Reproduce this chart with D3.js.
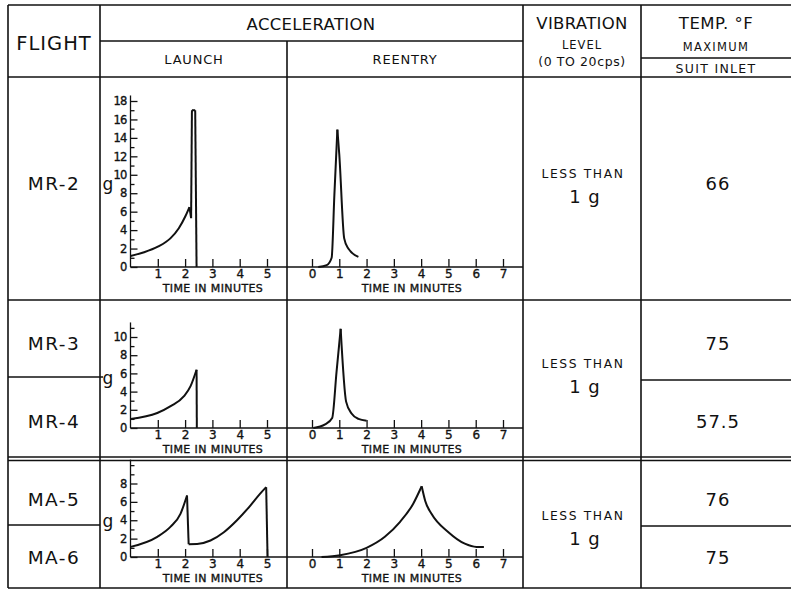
<!DOCTYPE html>
<html>
<head>
<meta charset="utf-8">
<title>Acceleration, vibration and suit inlet temperature by flight</title>
<style>
  body { margin: 0; background: #fff; }
  svg { display: block; }
  text { font-family: 'DejaVu Sans', sans-serif; fill: #111; }
  .grid line { stroke: #111; stroke-width: 1.6; }
  .curve { fill: none; stroke: #111; stroke-width: 2; stroke-linejoin: round; }
  .axis .tick line, .axis-line { stroke: #111; stroke-width: 1.3; }
  .axis .domain { display: none; }
  .axis text, .small { font-family: 'DejaVu Sans', sans-serif; fill: #111; stroke: #111; stroke-width: 0.35; }
</style>
</head>
<body>
<div id="chart"></div>
<script src="https://cdn.jsdelivr.net/npm/d3@7"></script>
<script>
var flights = ['MR-2', 'MR-3', 'MR-4', 'MA-5', 'MA-6'];
var suitInletTemp = ['66', '75', '57.5', '76', '75'];
var vibrationLevel = ['LESS THAN', '1 g'];

var launchTicks = [1, 2, 3, 4, 5];
var reentryTicks = [0, 1, 2, 3, 4, 5, 6, 7];

// [minutes, g] -- each trace split into pieces at its corners
var launchMR2 = [
  [[0, 1.2], [0.5, 1.6], [1.0, 2.2], [1.46, 3.1], [1.77, 4.2], [2.01, 5.5], [2.16, 6.5]],
  [[2.16, 6.5], [2.22, 5.3]],
  [[2.22, 5.3], [2.25, 17]],
  [[2.25, 17], [2.37, 17]],
  [[2.37, 17], [2.42, 0]]
];
var reentryMR2 = [
  [[0.23, 0], [0.54, 0.2], [0.72, 1.0], [0.82, 7.8], [0.93, 14.9]],
  [[0.93, 14.9], [1.0, 12.2], [1.18, 3.1], [1.33, 2.0], [1.7, 1.1]]
];
var launchMR3 = [
  [[0, 1.0], [0.98, 1.65], [1.47, 2.4], [1.96, 3.5], [2.2, 4.6], [2.42, 6.4]],
  [[2.42, 6.4], [2.43, 0]]
];
var reentryMR3 = [
  [[0.05, 0], [0.48, 0.4], [0.74, 1.1], [0.9, 6.2], [1.05, 10.9]],
  [[1.05, 10.9], [1.25, 2.9], [1.45, 1.6], [1.7, 1.0], [2.0, 0.8]]
];
var launchMA5 = [
  [[0, 1.1], [0.98, 2.2], [1.47, 3.3], [1.83, 4.7], [2.07, 6.7]],
  [[2.07, 6.7], [2.13, 1.4]],
  [[2.13, 1.4], [2.44, 1.42], [2.93, 1.8], [3.42, 2.7], [3.9, 4.0], [4.39, 5.6], [4.75, 6.9], [4.97, 7.6]],
  [[4.97, 7.6], [5.02, 0]]
];
var reentryMA5 = [
  [[0.35, 0], [1.03, 0.2], [2.0, 1.0], [2.67, 2.2], [3.22, 3.8], [3.71, 5.8], [4.02, 7.7]],
  [[4.02, 7.7], [4.15, 6.1], [4.38, 4.7], [5.0, 2.7], [5.6, 1.45], [6.03, 1.1], [6.3, 1.1]]
];

var gLabelMax = [18, 10, 8];
var gTickMax = [18, 11, 10];

var width = 791, height = 590;

var svg = d3.select('#chart').append('svg')
  .attr('width', width)
  .attr('height', height);

// table grid
var gridLines = [
  [8, 5, 791, 5], [8, 5, 8, 588],
  [100, 5, 100, 588], [523, 5, 523, 588], [641, 5, 641, 588],
  [287, 41, 287, 588],
  [100, 41, 523, 41], [641, 58, 791, 58],
  [8, 77, 791, 77],
  [8, 300, 791, 300],
  [8, 377, 103, 377], [641, 380, 791, 380],
  [8, 457, 791, 457], [8, 460.5, 791, 460.5],
  [8, 525, 100, 525], [641, 526, 791, 526],
  [8, 588, 791, 588]
];
svg.append('g').attr('class', 'grid')
  .selectAll('line')
  .data(gridLines)
  .enter().append('line')
  .attr('x1', function(d) { return d[0]; })
  .attr('y1', function(d) { return d[1]; })
  .attr('x2', function(d) { return d[2]; })
  .attr('y2', function(d) { return d[3]; });

function label(x, y, size, txt, ls, cls) {
  return svg.append('text')
    .attr('class', cls || null)
    .attr('x', x).attr('y', y)
    .attr('text-anchor', 'middle')
    .attr('font-size', size)
    .attr('letter-spacing', ls || 0)
    .text(txt);
}

// header
label(54, 50, 19.5, 'FLIGHT', 1);
label(311, 30, 16.5, 'ACCELERATION', 0.3);
label(194, 64, 13, 'LAUNCH', 0.8);
label(405, 64, 13, 'REENTRY', 0.8);
label(582, 29, 16.5, 'VIBRATION', 0.3);
label(582, 49, 11.5, 'LEVEL', 1);
label(582, 66, 12.5, '(0 TO 20cps)', 0.6);
label(716, 29, 16.5, 'TEMP. °F', 0.5);
label(716, 51, 11.5, 'MAXIMUM', 1.3);
label(716, 73, 12.5, 'SUIT INLET', 1.3);

// flight names and suit inlet temperatures
var cellMidY = [183, 343, 421, 499, 557];
flights.forEach(function(f, i) {
  label(54, cellMidY[i] + 7, 18.5, f, 1.5);
  label(718, cellMidY[i] + 7, 18, suitInletTemp[i], 1);
});

// vibration per row group
[173, 363, 515].forEach(function(y) {
  label(583, y + 4.5, 12.3, vibrationLevel[0], 1.6);
  label(585, y + 30, 18, vibrationLevel[1], 1);
});

// acceleration panels
var panels = [
  { launch: launchMR2, reentry: reentryMR2, base: 267, top: 101, gY: 190 },
  { launch: launchMR3, reentry: reentryMR3, base: 428, top: 337, gY: 384 },
  { launch: launchMA5, reentry: reentryMA5, base: 557, top: 483.5, gY: 527 }
];

var xLaunch = d3.scaleLinear().domain([0, 5]).range([130.5, 267]);
var xReentry = d3.scaleLinear().domain([0, 7]).range([312, 503]);
var fmt = d3.format('d');

panels.forEach(function(p, i) {
  var y = d3.scaleLinear().domain([0, gLabelMax[i]]).range([p.base, p.top]);
  var g = svg.append('g');

  // axis lines
  g.append('line').attr('class', 'axis-line')
    .attr('x1', xLaunch(0)).attr('x2', 287)
    .attr('y1', p.base).attr('y2', p.base);
  g.append('line').attr('class', 'axis-line')
    .attr('x1', 287).attr('x2', 523)
    .attr('y1', p.base).attr('y2', p.base);
  g.append('line').attr('class', 'axis-line')
    .attr('x1', xLaunch(0)).attr('x2', xLaunch(0))
    .attr('y1', p.base).attr('y2', y(gTickMax[i] + 0.6));

  // y ticks
  var major = d3.range(0, gLabelMax[i] + 1, 2);
  var minor = d3.range(1, gTickMax[i] + 1).filter(function(v) { return major.indexOf(v) < 0; });
  g.append('g').attr('class', 'axis')
    .attr('transform', 'translate(' + xLaunch(0) + ',0)')
    .call(d3.axisLeft(y).tickValues(major).tickFormat(fmt).tickSizeInner(-7).tickSizeOuter(0).tickPadding(4))
    .selectAll('text').attr('font-size', 11.5).attr('letter-spacing', -0.8);
  g.append('g').attr('class', 'axis')
    .attr('transform', 'translate(' + xLaunch(0) + ',0)')
    .call(d3.axisLeft(y).tickValues(minor).tickSizeInner(-4).tickSizeOuter(0).tickFormat(''));

  // x ticks
  g.append('g').attr('class', 'axis')
    .attr('transform', 'translate(0,' + p.base + ')')
    .call(d3.axisBottom(xLaunch).tickValues(launchTicks).tickFormat(fmt).tickSizeInner(-8).tickSizeOuter(0).tickPadding(2.5))
    .selectAll('text').attr('font-size', 12);
  g.append('g').attr('class', 'axis')
    .attr('transform', 'translate(0,' + p.base + ')')
    .call(d3.axisBottom(xReentry).tickValues(reentryTicks).tickFormat(fmt).tickSizeInner(-8).tickSizeOuter(0).tickPadding(2.5))
    .selectAll('text').attr('font-size', 12);

  label(213, p.base + 25, 11, 'TIME IN MINUTES', 0.4, 'small');
  label(412, p.base + 25, 11, 'TIME IN MINUTES', 0.4, 'small');
  label(108, p.gY, 17, 'g', 0);

  var lineL = d3.line().curve(d3.curveMonotoneX)
    .x(function(d) { return xLaunch(d[0]); })
    .y(function(d) { return y(d[1]); });
  var lineR = d3.line().curve(d3.curveMonotoneX)
    .x(function(d) { return xReentry(d[0]); })
    .y(function(d) { return y(d[1]); });

  g.selectAll('path.launch')
    .data(p.launch)
    .enter().append('path')
    .attr('class', 'curve launch')
    .attr('d', lineL);
  g.selectAll('path.reentry')
    .data(p.reentry)
    .enter().append('path')
    .attr('class', 'curve reentry')
    .attr('d', lineR);
});
</script>
</body>
</html>
